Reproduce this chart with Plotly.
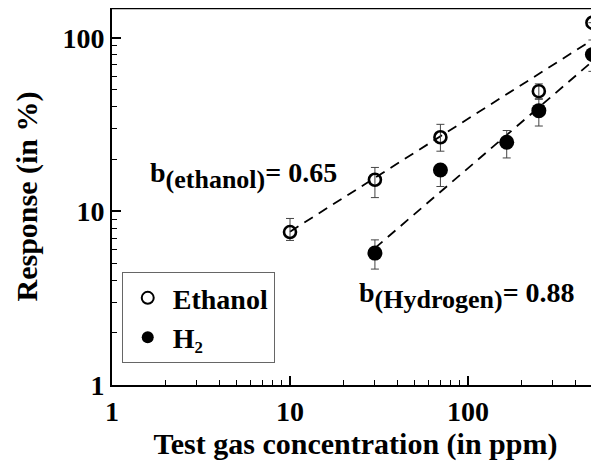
import numpy as np
import plotly.graph_objects as go

# ---- data ----
eth_x = [10, 30, 70, 250, 500]
eth_y = [7.6, 15.2, 26.7, 49.2, 122]
eth_err_plus = [1.5, 2.7, 5.0, 5.0, 0.0]
eth_err_minus = [0.8, 3.2, 4.5, 5.0, 25.0]

h2_x = [30, 70, 165, 250, 500]
h2_y = [5.75, 17.3, 25.0, 38.0, 80.0]
h2_err_plus = [1.1, 0.0, 4.2, 6.5, 0.0]
h2_err_minus = [1.1, 3.4, 4.7, 7.0, 16.0]

# power-law fits y = a * x^b
eth_fit_a, eth_fit_b = 1.71, 0.65
h2_fit_a, h2_fit_b = 0.308, 0.88
eth_fit_range = [10, 470]
h2_fit_range = [30, 520]

x_tickvals = [1, 10, 100]
x_ticktext = ["1", "10", "100"]
y_tickvals = [1, 10, 100]
y_ticktext = ["1", "10", "100"]
minor_vals = [m * 10 ** e for e in range(0, 3) for m in range(2, 10)]

font_family = "Liberation Serif"

fig = go.Figure()

ex = np.logspace(np.log10(eth_fit_range[0]), np.log10(eth_fit_range[1]), 50)
hx = np.logspace(np.log10(h2_fit_range[0]), np.log10(h2_fit_range[1]), 50)
fig.add_trace(go.Scatter(x=ex, y=eth_fit_a * ex ** eth_fit_b, mode="lines",
                         line=dict(color="black", width=1.8, dash="10px,7px"),
                         showlegend=False, hoverinfo="skip"))
fig.add_trace(go.Scatter(x=hx, y=h2_fit_a * hx ** h2_fit_b, mode="lines",
                         line=dict(color="black", width=1.8, dash="10px,7px"),
                         showlegend=False, hoverinfo="skip"))

fig.add_trace(go.Scatter(
    x=eth_x, y=eth_y, mode="markers", name="Ethanol",
    marker=dict(symbol="circle-open", size=12, color="black", line=dict(width=2.6)),
    error_y=dict(type="data", symmetric=False, array=eth_err_plus,
                 arrayminus=eth_err_minus, color="#444", thickness=1, width=4),
    cliponaxis=False))
fig.add_trace(go.Scatter(
    x=h2_x, y=h2_y, mode="markers",
    name="H<span style='font-size:24px'><sub>2</sub></span>",
    marker=dict(symbol="circle", size=15, color="black"),
    error_y=dict(type="data", symmetric=False, array=h2_err_plus,
                 arrayminus=h2_err_minus, color="#444", thickness=1, width=4),
    cliponaxis=False))

tickfont = dict(family=font_family, size=28, color="black", weight="bold")
titlefont = dict(family=font_family, size=30, color="black", weight="bold")
axis_common = dict(
    type="log", showgrid=False, zeroline=False, showline=True, linecolor="black",
    linewidth=2, ticks="inside", ticklen=9, tickwidth=1.5, tickcolor="black",
    tickfont=tickfont,
    minor=dict(ticks="inside", ticklen=5, tickwidth=1.2, tickcolor="black",
               showgrid=False, tickvals=minor_vals),
)

fig.update_xaxes(
    **axis_common, range=[0, 2.736], tickvals=x_tickvals, ticktext=x_ticktext,
    title=dict(text="Test gas concentration (in ppm)", font=titlefont, standoff=5),
)
fig.update_yaxes(
    **axis_common, range=[0, 2.171], tickvals=y_tickvals, ticktext=y_ticktext,
    title=dict(text="Response (in %)", font=titlefont, standoff=16),
)

fig.add_shape(type="line", xref="paper", yref="paper", x0=0, x1=1, y0=1, y1=1,
              line=dict(color="black", width=2.5))

ann_font = dict(family=font_family, size=28, color="black", weight="bold")
fig.add_annotation(x=0.202, y=1.206, xref="x", yref="y", xanchor="left", yanchor="middle",
                   text="b<sub><span style='font-size:26px'>(ethanol)</span></sub>= 0.65",
                   showarrow=False, font=ann_font)
fig.add_annotation(x=1.376, y=0.514, xref="x", yref="y", xanchor="left", yanchor="middle",
                   text="b<sub><span style='font-size:26px'>(Hydrogen)</span></sub>= 0.88",
                   showarrow=False, font=ann_font)

fig.update_layout(
    width=591, height=462,
    margin=dict(l=104, r=0, t=0, b=85),
    plot_bgcolor="white", paper_bgcolor="white",
    font=dict(family=font_family, color="black"),
    legend=dict(x=0.02, y=0.058, xanchor="left", yanchor="bottom",
                bordercolor="#666", borderwidth=1, bgcolor="white",
                font=dict(family=font_family, size=28, color="black", weight="bold"),
                itemwidth=40, itemsizing="constant", tracegroupgap=0),
    showlegend=True,
)

fig.write_html("out.html")
